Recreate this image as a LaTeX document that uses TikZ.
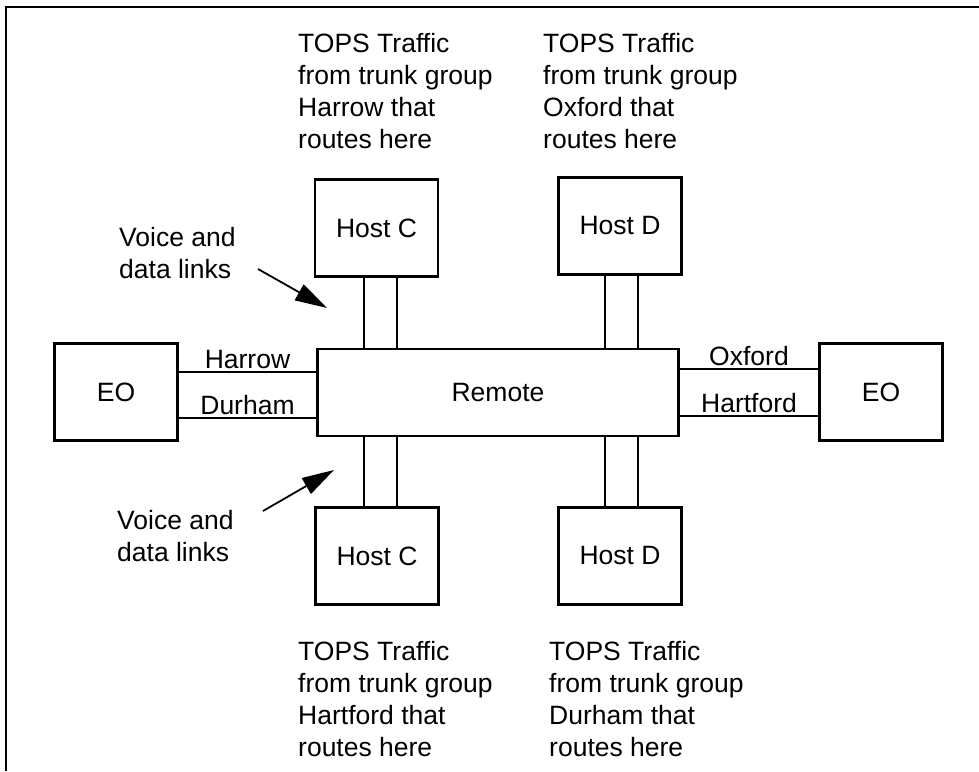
\documentclass[tikz,border=0pt]{standalone}
\usepackage{fontspec}
\setmainfont{Liberation Sans}
\usetikzlibrary{arrows.meta}
\begin{document}
\begin{tikzpicture}[x=1pt,y=-1pt,
  box/.style={draw, line width=2.1pt, inner sep=0pt, outer sep=0pt, minimum width=123pt, minimum height=97pt},
  link/.style={line width=1.8pt},
  lbl/.style={inner sep=0pt, anchor=base, yshift=4pt},
  note/.style={inner sep=0pt, anchor=base west, align=left},
  pointer/.style={line width=1.8pt, -{Triangle[length=32pt,width=18pt]}},
  frame/.style={line width=1.8pt},
  every node/.style={font=\fontsize{26.5}{31.7}\selectfont}]
\useasboundingbox (0,0) rectangle (979,771);
\draw[frame] (6,771) -- (6,7) -- (979,7);
% nodes
\node[box, minimum width=361pt, minimum height=87pt] (remote) at (498,392.5) {Remote};
\node[box] (hostCt) at (376.5,228) {Host C};
\node[box] (hostDt) at (620,226) {Host D};
\node[box] (hostCb) at (377,556) {Host C};
\node[box] (hostDb) at (620,556) {Host D};
\node[box] (eoL) at (116,392) {EO};
\node[box] (eoR) at (881,392) {EO};
% trunk lines
\draw[link] (eoL.east |- 0,372) -- (remote.west |- 0,372) node[midway, lbl] (harrow) {Harrow};
\draw[link] (eoL.east |- 0,418) -- (remote.west |- 0,418) node[midway, lbl] (durham) {Durham};
\draw[link] (remote.east |- 0,369) -- (eoR.west |- 0,369) node[midway, lbl] (oxford) {Oxford};
\draw[link] (remote.east |- 0,416) -- (eoR.west |- 0,416) node[midway, lbl] (hartford) {Hartford};
% voice and data links
\draw[link] (hostCt.south -| 364,0) -- (remote.north -| 364,0);
\draw[link] (hostCt.south -| 397,0) -- (remote.north -| 397,0);
\draw[link] (hostDt.south -| 605,0) -- (remote.north -| 605,0);
\draw[link] (hostDt.south -| 638,0) -- (remote.north -| 638,0);
\draw[link] (remote.south -| 364,0) -- (hostCb.north -| 364,0);
\draw[link] (remote.south -| 397,0) -- (hostCb.north -| 397,0);
\draw[link] (remote.south -| 605,0) -- (hostDb.north -| 605,0);
\draw[link] (remote.south -| 638,0) -- (hostDb.north -| 638,0);
% notes (anchored at the baseline of their last line)
\node[note] (tl) at (298,148) {TOPS Traffic\\from trunk group\\Harrow that\\routes here};
\node[note] (tr) at (543,148) {TOPS Traffic\\from trunk group\\Oxford that\\routes here};
\node[note] (bl) at (298,756) {TOPS Traffic\\from trunk group\\Hartford that\\routes here};
\node[note] (br) at (549,756) {TOPS Traffic\\from trunk group\\Durham that\\routes here};
\node[note] (vt) at (119,278) {Voice and\\data links};
\node[note] (vb) at (117,561) {Voice and\\data links};
% pointers
\coordinate (at1) at (258,269);
\coordinate (ah1) at (327,308);
\coordinate (at2) at (263,511);
\coordinate (ah2) at (334,470);
\draw[pointer] (at1) -- (ah1);
\draw[pointer] (at2) -- (ah2);
\end{tikzpicture}
\end{document}
